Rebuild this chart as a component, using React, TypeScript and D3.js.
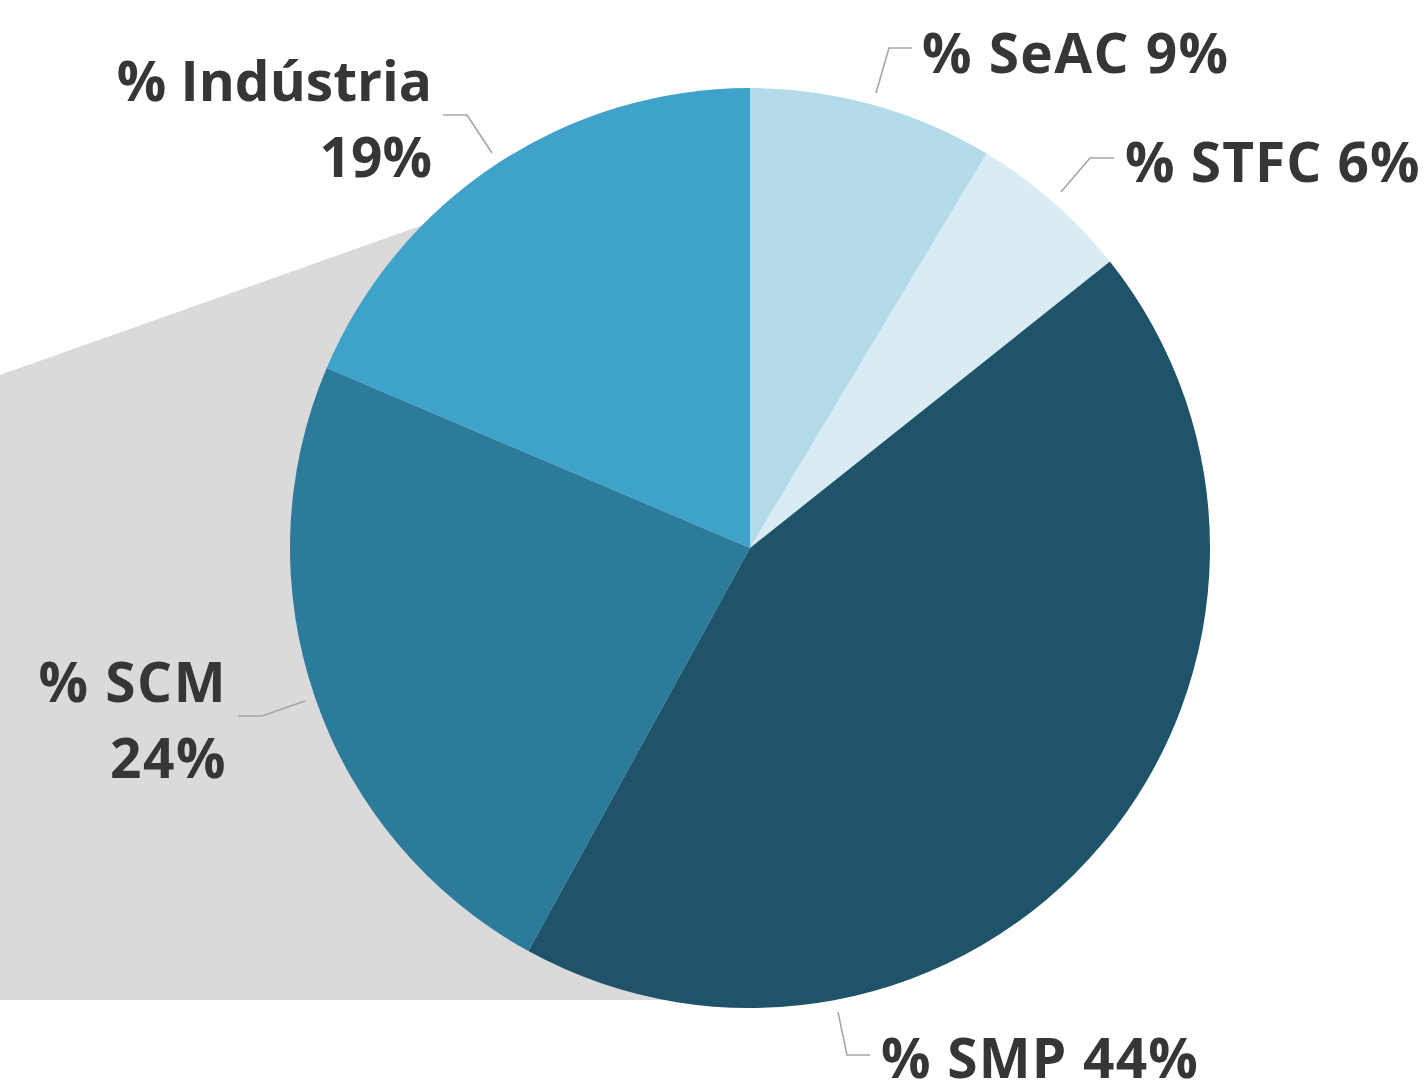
import React from "react";
import * as d3 from "d3";

const categories = ["% SeAC", "% STFC", "% SMP", "% SCM", "% Indústria"];
const values = [8.6, 5.7, 43.7, 23.4, 18.6];
const percentLabels = ["9%", "6%", "44%", "24%", "19%"];
const colors = ["#b4dbe9", "#d9ecf4", "#1e5369", "#2c7b9a", "#3ea2cb"];

const W = 1425;
const H = 1080;
const cx = 750;
const cy = 548;
const R = 460;

const labelLayout = [
  { anchor: "start", x: 922, lines: [73], twoLine: false, ls: 1.4, leader: [[876, 93], [889, 48], [912, 48]] },
  { anchor: "start", x: 1125, lines: [182], twoLine: false, ls: 1, leader: [[1061, 192], [1090, 158], [1114, 158]] },
  { anchor: "start", x: 881, lines: [1078], twoLine: false, ls: 1.2, leader: [[838, 1012], [847, 1055], [870, 1055]] },
  { anchor: "end", x: 227, lines: [702, 778], twoLine: true, ls: 1.5, leader: [[305, 701], [262, 716], [238, 716]] },
  { anchor: "end", x: 432, lines: [101, 177], twoLine: true, ls: 0, leader: [[492, 153], [467, 115], [443, 115]] },
];

export default function App() {
  const pie = d3
    .pie<number>()
    .sort(null)
    .value((d) => d)
    .startAngle(0)
    .endAngle(2 * Math.PI);
  const arcs = pie(values);
  const arc = d3.arc<d3.PieArcDatum<number>>().innerRadius(0).outerRadius(R);
  const line = d3.line();

  const shadow: [number, number][] = [
    [0, 375],
    [440, 219],
    [cx, cy],
    [690, 1000],
    [0, 1000],
  ];

  return (
    <svg
      width={W}
      height={H}
      style={{ position: "absolute", left: 0, top: 0, background: "#fff" }}
      fontFamily="'Open Sans', 'Noto Sans', sans-serif"
    >
      <path d={line(shadow) + "Z"} fill="#dadada" />
      <g transform={`translate(${cx},${cy})`}>
        {arcs.map((a, i) => (
          <path key={i} d={arc(a) || ""} fill={colors[i]} />
        ))}
      </g>
      {labelLayout.map((l, i) => (
        <g key={i}>
          <path
            d={line(l.leader as [number, number][]) || ""}
            fill="none"
            stroke="#a6a6a6"
            strokeWidth={1.6}
          />
          {l.twoLine ? (
            <>
              <text x={l.x} y={l.lines[0]} textAnchor={l.anchor as any} fontSize={55} fontWeight={700} fill="#363636" letterSpacing={l.ls}>
                {categories[i]}
              </text>
              <text x={l.x} y={l.lines[1]} textAnchor={l.anchor as any} fontSize={55} fontWeight={700} fill="#363636" letterSpacing={l.ls}>
                {percentLabels[i]}
              </text>
            </>
          ) : (
            <text x={l.x} y={l.lines[0]} textAnchor={l.anchor as any} fontSize={55} fontWeight={700} fill="#363636" letterSpacing={l.ls}>
              {categories[i] + " " + percentLabels[i]}
            </text>
          )}
        </g>
      ))}
    </svg>
  );
}
